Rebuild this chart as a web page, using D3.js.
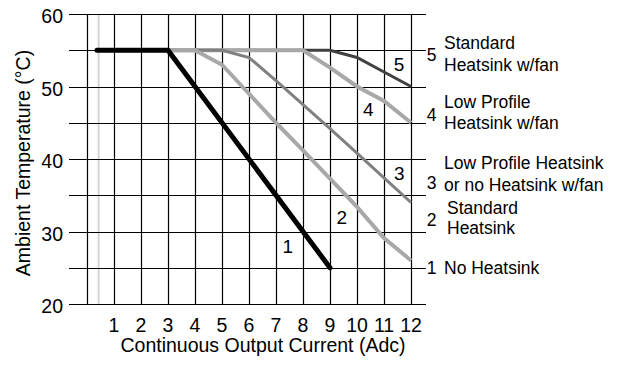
<!DOCTYPE html>
<html>
<head>
<meta charset="utf-8">
<script src="https://cdn.jsdelivr.net/npm/d3@7"></script>
<style>
  html, body { margin: 0; padding: 0; background: #fff; }
  svg { display: block; font-family: "Liberation Sans", Arial, sans-serif; }
</style>
</head>
<body>
<svg id="chart" width="621" height="367"></svg>
<script>
// Derating curves: ambient temperature (°C) vs continuous output current (Adc)
const xTickValues = [1, 2, 3, 4, 5, 6, 7, 8, 9, 10, 11, 12];
const xGridValues = [0, 1, 2, 3, 4, 5, 6, 7, 8, 9, 10, 11, 12];
const yTickValues = [20, 30, 40, 50, 60];
const yGridValues = [20, 25, 30, 35, 40, 45, 50, 55, 60];

// Curve 1: no heatsink
const curve1X = [0.37, 3, 9];
const curve1Y = [55, 55, 25];
// Curve 2: standard heatsink
const curve2X = [3, 4, 5, 6, 7, 8, 9, 10, 11, 12];
const curve2Y = [55, 55, 53, 49, 45, 41.2, 37.3, 33.4, 29.1, 26];
// Curve 3: low profile heatsink or no heatsink w/fan
const curve3X = [3, 5, 6, 7, 8, 9, 10, 11, 12];
const curve3Y = [55, 55, 54, 50.8, 47.5, 44.2, 40.8, 37.4, 34];
// Curve 4: low profile heatsink w/fan
const curve4X = [3, 8, 9, 10, 11, 12];
const curve4Y = [55, 55, 52.6, 50, 48, 45];
// Curve 5: standard heatsink w/fan
const curve5X = [3, 9, 10, 11, 12];
const curve5Y = [55, 55, 54, 52, 50];

const curveIds = ["1", "2", "3", "4", "5"];
const legendLines = [
  ["No Heatsink"],
  ["Standard", "Heatsink"],
  ["Low Profile Heatsink", "or no Heatsink w/fan"],
  ["Low Profile", "Heatsink w/fan"],
  ["Standard", "Heatsink w/fan"]
];

const xTitle = "Continuous Output Current (Adc)";
const yTitle = "Ambient Temperature (°C)";

// ---- layout ----
const svg = d3.select("#chart");
const plot = { left: 87, right: 411, top: 14, bottom: 304 };

const x = d3.scaleLinear().domain([0, 12]).range([plot.left, plot.right]);
const y = d3.scaleLinear().domain([20, 60]).range([plot.bottom, plot.top]);

const curves = [
  { id: "1", xs: curve1X, ys: curve1Y, color: "#000000", width: 5, cap: "round" },
  { id: "2", xs: curve2X, ys: curve2Y, color: "#a8a8a8", width: 4, cap: "butt" },
  { id: "3", xs: curve3X, ys: curve3Y, color: "#808080", width: 3, cap: "butt" },
  { id: "4", xs: curve4X, ys: curve4Y, color: "#a8a8a8", width: 4, cap: "butt" },
  { id: "5", xs: curve5X, ys: curve5Y, color: "#404040", width: 3, cap: "butt" }
];

// faint reference line near zero current
svg.append("line")
  .attr("x1", x(0.43)).attr("x2", x(0.43))
  .attr("y1", y(60)).attr("y2", y(20))
  .attr("stroke", "#d4d4d4").attr("stroke-width", 2);

// horizontal grid lines (extend left as ticks and right toward the legend)
svg.append("g").selectAll("line").data(yGridValues).join("line")
  .attr("x1", 69).attr("x2", 426)
  .attr("y1", d => Math.round(y(d)) + 0.5).attr("y2", d => Math.round(y(d)) + 0.5)
  .attr("stroke", "#000").attr("stroke-width", 1.2);

// vertical grid lines
svg.append("g").selectAll("line").data(xGridValues).join("line")
  .attr("x1", d => Math.round(x(d)) + 0.5).attr("x2", d => Math.round(x(d)) + 0.5)
  .attr("y1", y(60)).attr("y2", y(20))
  .attr("stroke", "#000").attr("stroke-width", 1.2);

// curves, drawn in reverse so curve 1 sits on top
const line = d3.line().x(d => x(d[0])).y(d => y(d[1]));
svg.append("g").selectAll("path").data(curves.slice().reverse()).join("path")
  .attr("d", c => line(d3.zip(c.xs, c.ys)))
  .attr("fill", "none")
  .attr("stroke", c => c.color)
  .attr("stroke-width", c => c.width)
  .attr("stroke-linecap", c => c.cap)
  .attr("stroke-linejoin", "miter");

// curve number labels inside the plot (positions in data units)
const innerLabelPos = [[7.44, 27.9], [9.44, 32.0], [11.57, 38.0], [10.42, 46.8], [11.56, 53.0]];
svg.append("g").selectAll("text").data(curveIds).join("text")
  .attr("x", (d, i) => x(innerLabelPos[i][0]))
  .attr("y", (d, i) => y(innerLabelPos[i][1]))
  .attr("text-anchor", "middle").attr("dominant-baseline", "central")
  .attr("font-size", 19).attr("fill", "#000")
  .text(d => d);

// y tick labels
svg.append("g").selectAll("text").data(yTickValues).join("text")
  .attr("x", 63).attr("y", d => y(d) + 2)
  .attr("text-anchor", "end").attr("dominant-baseline", "central")
  .attr("font-size", 19.5).attr("fill", "#000")
  .text(d => d);

// x tick labels
svg.append("g").selectAll("text").data(xTickValues).join("text")
  .attr("x", d => x(d)).attr("y", 332)
  .attr("text-anchor", "middle")
  .attr("font-size", 19.5).attr("fill", "#000")
  .text(d => d);

// axis titles
svg.append("text")
  .attr("x", 263).attr("y", 352)
  .attr("text-anchor", "middle").attr("font-size", 19.5).attr("fill", "#000")
  .text(xTitle);

svg.append("text")
  .attr("transform", "translate(30,163) rotate(-90)")
  .attr("text-anchor", "middle").attr("font-size", 19.5).attr("fill", "#000")
  .text(yTitle);

// right-hand legend: curve number plus description
const legendDigitY = [24.92, 31.6, 36.7, 46.07, 54.34];
const legendLineY = [[24.92], [33.2, 30.44], [39.41, 36.41], [47.9, 44.92], [56.0, 52.97]];
const legend = svg.append("g");
curveIds.forEach((id, i) => {
  legend.append("text")
    .attr("x", 431.5).attr("y", y(legendDigitY[i]))
    .attr("text-anchor", "middle").attr("dominant-baseline", "central")
    .attr("font-size", 17.5).attr("fill", "#000")
    .text(id);
  legendLines[i].forEach((t, j) => {
    legend.append("text")
      .attr("x", i === 1 ? 447 : 444).attr("y", y(legendLineY[i][j]))
      .attr("dominant-baseline", "central")
      .attr("font-size", 17.5).attr("fill", "#000")
      .text(t);
  });
});
</script>
</body>
</html>
